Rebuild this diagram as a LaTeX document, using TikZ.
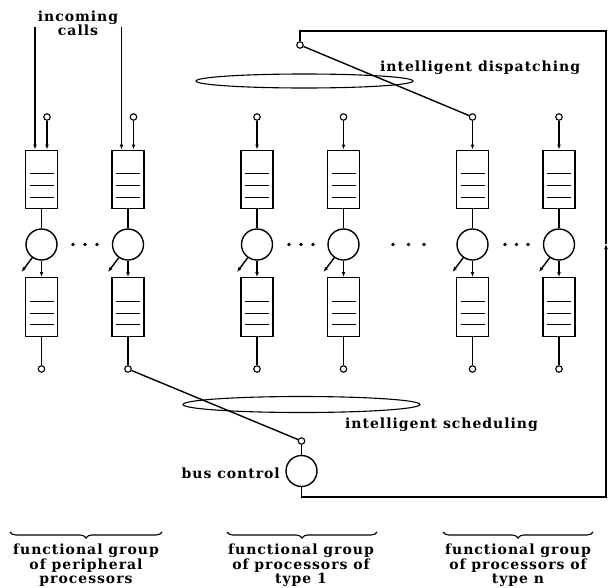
\documentclass[tikz,border=0pt]{standalone}
\usepackage{fontspec}
\newfontfamily\lblfont{DejaVu Serif}[LetterSpace=7]
\usetikzlibrary{arrows.meta,shapes.geometric,decorations.pathreplacing}
\begin{document}
\begin{tikzpicture}[x=1pt,y=-1pt]
\tikzset{
  queue/.style={draw, line width=1.4pt, minimum width=32pt, minimum height=58.5pt, inner sep=0pt,
    path picture={
      \foreach \h in {11.5,23,35}{
        \draw[line width=1.4pt] ([xshift=4pt,yshift=\h pt]path picture bounding box.south west) -- ([xshift=-4pt,yshift=\h pt]path picture bounding box.south east);
      }
    }},
  server/.style={draw, circle, line width=1.4pt, minimum size=31pt, inner sep=0pt},
  port/.style={draw, circle, line width=1.1pt, minimum size=6.5pt, inner sep=0pt, fill=white},
  wire/.style={line width=1.4pt},
  arr/.style={wire, -{Latex[length=5pt,width=3.8pt]}},
  lbl/.style={font=\lblfont\bfseries\fontsize{14}{14.2}\selectfont, inner sep=0pt},
  ring/.style={draw, ellipse, line width=1.1pt, inner sep=0pt},
  dotn/.style={circle, fill, minimum size=3.8pt, inner sep=0pt},
  grpbrace/.style={decorate, decoration={brace, mirror, amplitude=6pt}, line width=1.1pt},
}
\useasboundingbox (0,0) rectangle (611,587);

% columns
\foreach \i/\x in {1/41.5,2/128,3/257,4/343.5,5/472.5,6/559}{
  \node[queue] (qa\i) at (\x,179.5) {};
  \node[server] (s\i) at (\x,244.5) {};
  \node[queue] (qb\i) at (\x,307) {};
  \node[port] (out\i) at (\x,369) {};
  \coordinate (lk\i) at (\x-20,272);
  \draw[wire] (qa\i.south) -- (s\i.north);
  \draw[arr] (s\i.south) -- (qb\i.north);
  \draw[wire] (qb\i.south) -- (out\i.north);
  \draw[arr] (s\i.235) -- (lk\i);
}

% input ports of peripheral processors
\foreach \i/\x in {1/41.5,2/128}{
  \node[port] (in\i) at (\x+5.5,117) {};
  \coordinate (inc\i) at (\x-6.5,27);
  \draw[arr] (in\i.south) -- ([xshift=5.5pt]qa\i.north);
  \draw[arr] (inc\i) -- ([xshift=-6.5pt]qa\i.north);
}
% input ports of other processors
\foreach \i/\x in {3/257,4/343.5,5/472.5,6/559}{
  \node[port] (in\i) at (\x,117) {};
  \draw[arr] (in\i.south) -- (qa\i.north);
}

% dots
\foreach \d/\x in {a/73,b/85,c/97,d/289,e/301,f/313,g/393,h/408.5,i/424,j/505,k/516.5,l/528}{
  \node[dotn] (dot\d) at (\x,244.5) {};
}

% dispatching
\node[ring, minimum width=217pt, minimum height=14pt] (disp) at (304.5,81) {};
\node[port] (dsp) at (300,45) {};
\draw[wire] (dsp) -- (in5);
\node[lbl, anchor=base west] (dtxt) at (380,71) {intelligent dispatching};

% scheduling and bus
\node[ring, minimum width=237pt, minimum height=16pt] (sched) at (301.5,404.5) {};
\node[lbl, anchor=base west] (stxt) at (345,428) {intelligent scheduling};
\node[port] (bp) at (301.5,441) {};
\node[server] (bus) at (301.5,471) {};
\node[lbl, anchor=base east] (btxt) at (280,478) {bus control};
\draw[wire] (out2) -- (bp);
\draw[wire] (bp) -- (bus);

% feedback loop
\coordinate (tr) at (606,31);
\coordinate (br) at (606,497);
\coordinate (mid) at (606,244);
\draw[arr] (bus.south) |- (br) -- (mid);
\draw[wire] (mid) -- (tr) -| (dsp.north);

% incoming calls label
\node[lbl, align=center] (calls) at (78,23) {incoming\\calls};

% groups
\coordinate (b1l) at (10,532); \coordinate (b1r) at (162,532);
\coordinate (b2l) at (227,532); \coordinate (b2r) at (377,532);
\coordinate (b3l) at (443,532); \coordinate (b3r) at (593,532);
\draw[grpbrace] (b1l) -- (b1r);
\draw[grpbrace] (b2l) -- (b2r);
\draw[grpbrace] (b3l) -- (b3r);
\node[lbl, align=center, anchor=north] (g1) at (86,544) {functional group\\of peripheral\\processors};
\node[lbl, align=center, anchor=north] (g2) at (301,544) {functional group\\of processors of\\type 1};
\node[lbl, align=center, anchor=north] (g3) at (518,544) {functional group\\of processors of\\type n};
\end{tikzpicture}
\end{document}
